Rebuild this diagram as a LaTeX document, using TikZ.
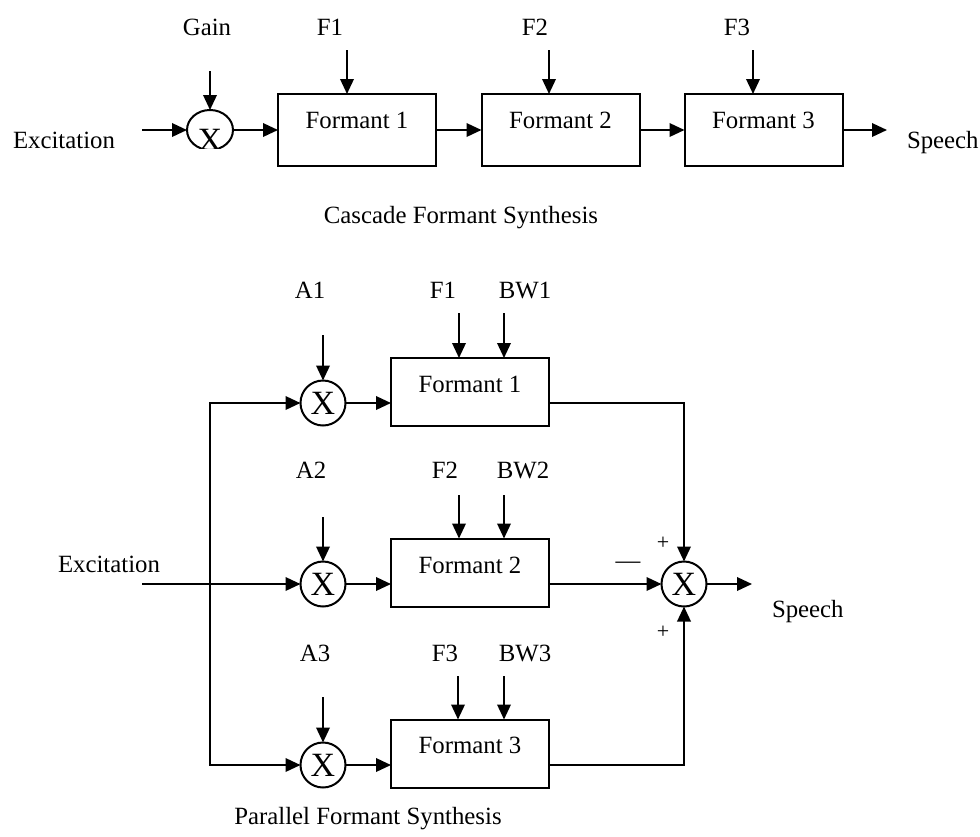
\documentclass[tikz,border=0pt]{standalone}
\usepackage{fontspec}
\setmainfont{Liberation Serif}
\usetikzlibrary{arrows.meta,shapes.geometric}

\begin{document}
\begin{tikzpicture}[x=1pt,y=-1pt,
  every node/.style={font=\fontsize{24.8}{29}\selectfont, inner sep=0pt, outer sep=0pt},
  wire/.style={line width=2pt},
  arr/.style={wire,-{Triangle[length=15pt,width=13.5pt]}},
  fbox/.style={draw,line width=2pt,minimum width=158pt,minimum height=68pt},
  mult/.style={draw,circle,line width=2pt,minimum size=45pt,font=\fontsize{34}{38}\selectfont},
  lbl/.style={anchor=base},
  sgn/.style={font=\fontsize{22}{24}\selectfont}
]
\useasboundingbox (0,0) rectangle (980,836);

% ---------------- Cascade formant synthesis ----------------
\node[ellipse, minimum width=46pt, minimum height=40pt] (g) at (210,130) {};
\begin{scope}
  \clip (180,100) rectangle (240,148);
  \draw[wire] (g.center) ellipse [x radius=23pt, y radius=20pt];
  \node[lbl, font=\fontsize{34}{38}\selectfont] (gx) at (210,151) {X};
\end{scope}

\node[fbox, minimum height=72pt] (cb1) at (357,130) {};
\node[fbox, minimum height=72pt] (cb2) at (560.5,130) {};
\node[fbox, minimum height=72pt] (cb3) at (763.5,130) {};
\node[lbl] (ct1) at (357,128) {Formant 1};
\node[lbl] (ct2) at (560.5,128) {Formant 2};
\node[lbl] (ct3) at (763.5,128) {Formant 3};

\node[lbl] (lgain) at (207,35) {Gain};
\node[lbl] (lcf1) at (330,35) {F1};
\node[lbl] (lcf2) at (535,35) {F2};
\node[lbl] (lcf3) at (737,35) {F3};

\coordinate (gainIn) at (210,71);
\coordinate (cf1In) at (347,50);
\coordinate (cf2In) at (549,50);
\coordinate (cf3In) at (753,50);

\draw[arr] (gainIn) -- (g.north);
\draw[arr] (cf1In) -- (cf1In |- cb1.north);
\draw[arr] (cf2In) -- (cf2In |- cb2.north);
\draw[arr] (cf3In) -- (cf3In |- cb3.north);

\node[anchor=base west] (cexc) at (13,148) {Excitation};
\coordinate (cexcIn) at (142,130);
\draw[arr] (cexcIn) -- (g.west);
\draw[arr] (g.east) -- (cb1.west);
\draw[arr] (cb1.east) -- (cb2.west);
\draw[arr] (cb2.east) -- (cb3.west);
\coordinate (cOut) at (887,130);
\draw[arr] (cb3.east) -- (cOut);
\node[anchor=base west] (cspeech) at (907,148) {Speech};

\node[lbl] (ccap) at (461,223) {Cascade Formant Synthesis};

% ---------------- Parallel formant synthesis ----------------
\node[mult] (m1) at (323,403) {X};
\node[mult] (m2) at (323,584) {X};
\node[mult] (m3) at (323,765) {X};
\node[mult] (s) at (684,584) {X};

\node[fbox] (pb1) at (470,392) {};
\node[fbox] (pb2) at (470,572.5) {};
\node[fbox] (pb3) at (470,753.5) {};
\node[lbl] (pt1) at (470,392) {Formant 1};
\node[lbl] (pt2) at (470,573) {Formant 2};
\node[lbl] (pt3) at (470,753) {Formant 3};

\node[lbl] (la1) at (310,298) {A1};
\node[lbl] (lf1) at (443,298) {F1};
\node[lbl] (lw1) at (525,298) {BW1};
\node[lbl] (la2) at (311,478) {A2};
\node[lbl] (lf2) at (445,478) {F2};
\node[lbl] (lw2) at (523,478) {BW2};
\node[lbl] (la3) at (315,661) {A3};
\node[lbl] (lf3) at (445,661) {F3};
\node[lbl] (lw3) at (525,661) {BW3};

\coordinate (a1In) at (323,335);
\coordinate (f1In) at (459,313);
\coordinate (w1In) at (504,313);
\coordinate (a2In) at (323,517);
\coordinate (f2In) at (459,495);
\coordinate (w2In) at (504,495);
\coordinate (a3In) at (323,697);
\coordinate (f3In) at (458,676);
\coordinate (w3In) at (504,676);

\draw[arr] (a1In) -- (m1.north);
\draw[arr] (a2In) -- (m2.north);
\draw[arr] (a3In) -- (m3.north);
\draw[arr] (f1In) -- (f1In |- pb1.north);
\draw[arr] (w1In) -- (w1In |- pb1.north);
\draw[arr] (f2In) -- (f2In |- pb2.north);
\draw[arr] (w2In) -- (w2In |- pb2.north);
\draw[arr] (f3In) -- (f3In |- pb3.north);
\draw[arr] (w3In) -- (w3In |- pb3.north);

% excitation bus
\node[anchor=base west] (pexc) at (58,572) {Excitation};
\coordinate (pexcIn) at (142,584);
\coordinate (busTop) at (210,403);
\coordinate (busBot) at (210,765);
\draw[wire, line cap=rect] (busTop) -- (busBot);
\draw[arr] (busTop) -- (m1.west);
\draw[arr] (pexcIn) -- (m2.west);
\draw[arr] (busBot) -- (m3.west);

\draw[arr] (m1.east) -- (m1.east -| pb1.west);
\draw[arr] (m2.east) -- (m2.east -| pb2.west);
\draw[arr] (m3.east) -- (m3.east -| pb3.west);

% summing junction
\draw[arr] (pb1.east |- m1) -| (s.north);
\draw[arr] (pb2.east |- s) -- (s.west);
\draw[arr] (pb3.east |- m3) -| (s.south);
\node[sgn] (plusTop) at (663,543) {+};
\node[sgn] (plusBot) at (663,632) {+};
\node[lbl] (minus) at (628,568) {—};

\coordinate (pOut) at (752,584);
\draw[arr] (s.east) -- (pOut);
\node[anchor=base west] (pspeech) at (772,617) {Speech};

\node[lbl] (pcap) at (368,824) {Parallel Formant Synthesis};
\end{tikzpicture}
\end{document}
